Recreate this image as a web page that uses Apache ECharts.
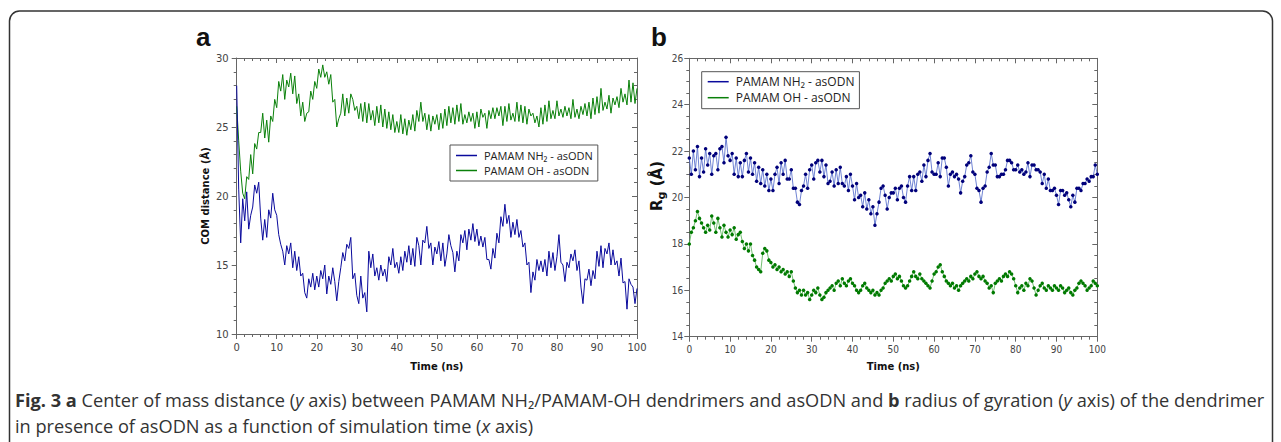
<!DOCTYPE html>
<html><head><meta charset="utf-8">
<script src="https://cdn.jsdelivr.net/npm/echarts@6/dist/echarts.min.js"></script>
<style>html,body{margin:0;padding:0;background:#fff}#c{width:1281px;height:442px}</style>
</head><body><div id="c"></div>
<script>
const STEP = 0.5;
const xTicks = [0,10,20,30,40,50,60,70,80,90,100];
const seriesNames = ['PAMAM NH\u2082 - asODN', 'PAMAM OH - asODN'];

// Panel a: COM distance (Å)
const comNH2 = [
28.0,20.5,16.6,19.8,18.2,20.3,17.6,18.6,19.2,20.8,
20.2,21.0,18.4,16.8,18.3,17.0,19.0,18.4,20.2,19.0,
18.6,17.2,16.5,16.0,15.0,16.4,15.8,16.6,14.8,16.0,
14.6,15.6,14.2,14.4,13.0,12.6,14.0,13.4,14.4,13.2,
14.2,13.4,14.6,14.0,15.0,12.9,14.2,13.6,14.8,13.8,
12.4,13.8,14.8,15.9,15.3,16.5,16.2,17.0,14.0,14.4,
12.8,12.2,14.2,12.6,13.0,11.6,16.0,14.8,15.8,14.2,
14.8,13.9,15.0,14.2,14.7,13.8,15.6,15.0,16.2,14.8,
15.2,14.4,15.6,14.6,16.0,15.2,16.4,15.0,16.2,14.9,
17.0,16.4,15.0,16.8,16.6,17.8,16.2,16.6,15.0,16.3,
15.8,16.7,15.3,16.6,14.9,15.8,17.2,16.4,15.9,14.5,
16.0,15.3,17.2,16.6,17.5,16.1,17.6,16.8,18.0,16.7,
17.6,16.4,17.1,16.3,17.0,15.4,15.4,14.7,16.2,15.5,
17.3,16.6,18.5,17.8,19.4,18.0,18.6,17.0,18.1,17.2,
18.3,17.0,17.5,16.3,16.6,15.0,15.2,13.0,14.5,13.9,
15.4,14.6,15.3,14.5,15.4,14.2,16.0,14.8,15.9,14.6,
15.6,17.2,15.2,15.0,13.8,15.2,14.8,15.8,15.3,16.1,
14.6,15.3,13.4,12.2,14.0,13.9,14.7,13.5,14.6,14.0,
16.0,14.9,16.4,14.8,16.2,15.8,16.6,15.0,16.1,15.0,
15.3,14.2,15.5,13.7,13.8,11.8,14.0,13.6,13.4,12.2,
13.3];
const comOH = [
26.5,24.0,21.8,20.2,19.8,21.4,21.2,23.0,21.6,23.8,
23.4,24.6,24.6,26.0,24.2,25.5,23.9,25.8,25.4,27.0,
26.4,28.3,27.6,28.8,27.0,28.4,27.9,28.9,27.4,28.7,
26.7,27.4,25.8,26.8,25.4,26.0,26.1,27.6,27.0,28.3,
27.8,29.2,28.6,29.5,28.6,29.0,28.1,28.8,26.8,27.0,
25.0,25.6,26.0,27.4,25.8,27.1,26.0,27.4,27.0,26.2,
26.5,25.6,26.7,25.4,26.8,25.3,26.7,25.5,26.2,25.1,
26.5,25.3,26.6,25.0,26.3,24.9,26.1,24.8,25.9,24.6,
25.4,24.6,25.9,24.5,25.6,24.4,25.5,24.8,25.9,24.7,
26.2,25.4,26.8,25.4,26.0,24.8,25.9,24.7,25.8,25.2,
25.9,24.8,26.0,24.9,26.3,25.1,26.5,25.3,26.4,25.2,
26.6,25.4,26.7,25.2,25.9,25.3,26.1,25.4,26.0,24.9,
26.1,25.0,26.3,25.7,26.0,24.9,26.2,25.6,26.4,25.6,
26.4,25.8,26.5,25.1,26.5,25.4,26.7,25.5,26.0,25.4,
26.8,25.4,26.6,25.3,26.5,25.2,26.3,25.8,26.0,25.3,
25.8,25.0,26.4,25.2,26.6,25.4,26.9,25.6,26.2,25.6,
26.9,25.8,26.3,25.7,26.5,25.8,26.4,25.6,27.0,25.7,
26.3,25.6,26.5,25.9,26.7,25.8,26.8,25.6,27.1,25.9,
27.2,26.0,27.8,26.2,26.8,26.3,27.3,26.0,27.1,26.6,
27.2,26.4,27.8,26.8,27.4,26.6,28.4,26.8,28.2,26.7,
27.8];

// Panel b: radius of gyration (Å)
const rgNH2 = [
21.7,21.0,22.0,21.2,22.2,20.9,21.7,21.1,22.1,21.4,
21.9,21.0,21.8,21.9,21.2,22.1,22.2,21.5,22.6,21.8,
21.6,21.9,21.0,21.7,20.9,21.5,20.9,21.6,21.9,21.1,
21.7,21.0,21.5,20.7,21.3,20.6,21.2,20.5,21.0,20.3,
20.8,20.3,21.0,21.3,20.6,21.5,21.0,21.6,20.8,20.8,
21.2,20.4,20.4,19.8,19.7,20.3,20.5,21.0,20.4,21.2,
21.4,20.8,21.5,21.6,21.1,21.6,20.9,21.4,20.6,20.7,
21.1,20.5,21.2,20.6,21.3,20.6,20.5,20.9,20.3,21.0,
20.5,19.9,20.6,20.0,20.1,19.6,20.2,19.5,19.9,19.3,
19.6,18.8,19.3,19.8,20.4,20.5,20.1,19.5,20.0,20.2,
20.2,20.4,19.9,20.4,20.5,20.0,19.8,20.5,20.9,20.3,
20.9,20.3,21.0,21.1,20.7,21.4,20.9,21.6,21.9,21.1,
21.0,21.0,21.5,20.9,21.7,21.7,21.3,20.5,21.0,21.1,
20.9,21.0,20.8,20.2,20.7,20.9,21.4,21.5,21.8,21.1,
21.0,20.4,20.3,19.8,20.4,20.5,21.1,21.3,21.9,21.4,
21.4,20.9,20.9,21.0,21.0,21.2,21.6,21.6,21.5,21.2,
21.2,21.4,21.1,21.2,21.0,21.1,21.5,20.9,21.4,21.4,
21.2,21.2,21.1,20.6,21.0,20.4,20.8,20.3,20.3,20.4,
20.1,19.7,20.3,20.3,20.1,20.2,19.9,19.6,20.1,19.8,
20.4,20.4,20.3,20.6,20.6,20.8,20.7,20.9,20.9,21.4,
21.0];
const rgOH = [
18.0,18.5,18.7,19.0,19.4,19.1,18.9,18.7,18.5,18.8,
18.6,19.2,18.9,18.5,19.1,18.7,18.3,18.8,18.5,18.3,
18.6,18.4,18.7,18.2,18.4,18.5,18.1,17.8,18.0,17.7,
18.0,17.5,17.3,17.0,16.9,16.8,17.6,17.8,17.7,17.3,
17.2,17.0,17.1,16.9,17.0,16.8,16.9,16.7,16.8,16.6,
16.8,16.4,16.1,15.9,16.0,15.8,16.0,15.8,15.9,15.6,
15.8,16.0,15.9,16.1,15.8,15.6,15.7,15.9,16.0,16.1,
16.2,16.0,16.3,16.4,16.2,16.5,16.3,16.2,16.4,16.5,
16.3,16.2,16.0,15.9,16.0,16.2,16.3,16.1,16.0,15.9,
16.0,15.8,15.9,15.8,16.0,16.1,16.3,16.4,16.5,16.4,
16.6,16.7,16.5,16.6,16.4,16.2,16.1,16.2,16.4,16.6,
16.8,16.6,16.5,16.7,16.5,16.4,16.3,16.2,16.1,16.4,
16.7,16.8,17.0,17.1,16.8,16.6,16.4,16.3,16.2,16.3,
16.1,16.2,16.0,16.2,16.3,16.4,16.5,16.4,16.6,16.5,
16.7,16.8,16.6,16.5,16.6,16.4,16.3,16.1,16.2,15.9,
16.3,16.4,16.5,16.4,16.6,16.7,16.6,16.8,16.7,16.5,
16.2,15.9,16.1,16.2,16.0,16.3,16.2,16.5,16.4,16.1,
15.8,16.0,16.2,16.3,16.1,16.0,16.2,16.1,16.0,16.2,
16.1,16.0,16.2,16.1,15.9,16.0,16.1,15.9,15.8,16.0,
16.1,16.3,16.4,16.3,16.2,16.0,16.1,16.2,16.4,16.3,
16.2];

const pair = arr => arr.map((v, i) => [i * STEP, v]);

const AX = '#666';
const BLUE = '#0a0a9c', GREEN = '#0a800a';

function xAx(grid, pos, labels, font, nameGap) {
  return {
    type: 'value', gridIndex: grid, position: pos, min: 0, max: 100, interval: 10,
    axisLine: {onZero: false, lineStyle: {color: AX, width: 1}},
    axisTick: {show: true, inside: !labels, length: 5, lineStyle: {color: AX}},
    minorTick: {show: true, splitNumber: 5, length: 3, lineStyle: {color: AX}},
    axisLabel: {show: labels, margin: 8, color: '#444', fontSize: 10, fontFamily: font},
    splitLine: {show: false}, minorSplitLine: {show: false},
    name: labels ? 'Time (ns)' : '', nameLocation: 'middle', nameGap: nameGap,
    nameTextStyle: {fontSize: 10, fontWeight: 'bold', color: '#111', fontFamily: 'DejaVu Sans'}
  };
}
function yAx(grid, pos, labels, min, max, interval, minor, font, margin) {
  return {
    type: 'value', gridIndex: grid, position: pos, min: min, max: max, interval: interval,
    axisLine: {onZero: false, lineStyle: {color: AX, width: 1}},
    axisTick: {show: true, inside: !labels, length: 5, lineStyle: {color: AX}},
    minorTick: {show: true, splitNumber: minor, length: 3, lineStyle: {color: AX}},
    axisLabel: {show: labels, margin: margin, color: '#444', fontSize: 10, fontFamily: font},
    splitLine: {show: false}, minorSplitLine: {show: false}
  };
}

const chart = echarts.init(document.getElementById('c'), null, {renderer: 'svg', width: 1281, height: 442});

const yA = yAx(0, 'left', true, 10, 30, 5, 5, 'DejaVu Sans', 8);
yA.name = 'COM distance (Å)';
yA.nameLocation = 'middle';
yA.nameGap = 26;
yA.nameTextStyle = {fontSize: 10, fontWeight: 'bold', color: '#111', fontFamily: 'DejaVu Sans'};

const legendBase = (left, top, fs, pad) => ({
  orient: 'vertical', left: left, top: top, padding: pad, itemGap: 2,
  itemWidth: 21, itemHeight: 1.5, icon: 'rect',
  borderColor: '#555', borderWidth: 1, backgroundColor: '#fff',
  textStyle: {fontSize: fs, color: '#222', fontFamily: 'Open Sans', lineHeight: fs + 2, padding: [0, 0, 0, 2]},
  selectedMode: false,
  data: [
    {name: seriesNames[0], itemStyle: {color: BLUE}},
    {name: seriesNames[1], itemStyle: {color: GREEN}}
  ]
});

chart.setOption({
  animation: false,
  grid: [
    {left: 236.7, top: 58, width: 400.3, height: 276},
    {left: 689.3, top: 58.3, width: 408, height: 278.4}
  ],
  xAxis: [
    xAx(0, 'bottom', true, 'DejaVu Sans', 27),
    xAx(0, 'top', false, 'DejaVu Sans', 0),
    xAx(1, 'bottom', true, 'DejaVu Sans Condensed', 25),
    xAx(1, 'top', false, 'DejaVu Sans Condensed', 0)
  ],
  yAxis: [
    yA,
    yAx(0, 'right', false, 10, 30, 5, 5, 'DejaVu Sans', 8),
    yAx(1, 'left', true, 14, 26, 2, 4, 'DejaVu Sans Condensed', 6),
    yAx(1, 'right', false, 14, 26, 2, 4, 'DejaVu Sans Condensed', 6)
  ],
  legend: [
    legendBase(450, 145, 11, [4, 5, 4, 6]),
    legendBase(701.7, 71.7, 12, [3, 5, 4, 6])
  ],
  series: [
    {type: 'line', name: seriesNames[1], xAxisIndex: 0, yAxisIndex: 0, data: pair(comOH),
     showSymbol: false, lineStyle: {width: 1, color: GREEN}, itemStyle: {color: GREEN}},
    {type: 'line', name: seriesNames[0], xAxisIndex: 0, yAxisIndex: 0, data: pair(comNH2),
     showSymbol: false, lineStyle: {width: 1, color: BLUE}, itemStyle: {color: BLUE}},
    {type: 'line', name: seriesNames[0], xAxisIndex: 2, yAxisIndex: 2, data: pair(rgNH2),
     symbol: 'circle', symbolSize: 3.5, lineStyle: {width: 0.8, color: '#4a63c8'}, itemStyle: {color: '#00007a'}},
    {type: 'line', name: seriesNames[1], xAxisIndex: 2, yAxisIndex: 2, data: pair(rgOH),
     symbol: 'circle', symbolSize: 3.5, lineStyle: {width: 0.8, color: '#4fb04f'}, itemStyle: {color: '#007a00'}}
  ],
  graphic: [
    {type: 'rect', shape: {x: 9.5, y: 11, width: 1263, height: 470, r: 10},
     style: {fill: 'none', stroke: '#333', lineWidth: 1.5}, silent: true},
    {type: 'text', x: 196, y: 24, style: {text: 'a', fontSize: 26, fontWeight: 'bold', fontFamily: 'Liberation Sans', fill: '#111'}},
    {type: 'text', x: 651, y: 24, style: {text: 'b', fontSize: 26, fontWeight: 'bold', fontFamily: 'Liberation Sans', fill: '#111'}},
    {type: 'text', x: 657, y: 186, rotation: Math.PI / 2,
     style: {text: '{r|R}{g|g}{r| (Å)}', align: 'center', verticalAlign: 'middle',
       rich: {r: {fontSize: 15, fontWeight: 'bold', fontFamily: 'DejaVu Sans', fill: '#111', lineHeight: 20},
              g: {fontSize: 11, fontWeight: 'bold', fontFamily: 'DejaVu Sans', fill: '#111', lineHeight: 11, verticalAlign: 'bottom'}}}},
    {type: 'text', x: 15, y: 391,
     style: {text: '{b|Fig. 3 a} Center of mass distance ({i|y} axis) between PAMAM NH\u2082/PAMAM-OH dendrimers and asODN and {b|b} radius of gyration ({i|y} axis) of the dendrimer',
       fontSize: 18.2, fontFamily: 'Open Sans', fill: '#333',
       rich: {b: {fontSize: 18.2, fontWeight: 'bold', fontFamily: 'Open Sans', fill: '#333'},
              i: {fontSize: 18.2, fontStyle: 'italic', fontFamily: 'Open Sans', fill: '#333'}}}},
    {type: 'text', x: 15, y: 417,
     style: {text: 'in presence of asODN as a function of simulation time ({i|x} axis)',
       fontSize: 18.2, fontFamily: 'Open Sans', fill: '#333',
       rich: {i: {fontSize: 18.2, fontStyle: 'italic', fontFamily: 'Open Sans', fill: '#333'}}}}
  ]
});
</script>
</body></html>
